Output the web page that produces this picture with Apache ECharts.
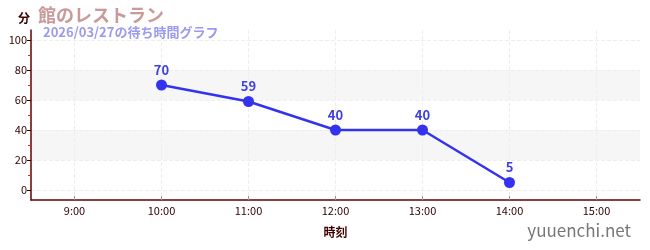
<!DOCTYPE html>
<html><head><meta charset="utf-8">
<script src="https://cdn.jsdelivr.net/npm/echarts@6/dist/echarts.min.js"></script>
<style>html,body{margin:0;padding:0;background:#fff}#c{width:650px;height:250px}</style>
</head><body><div id="c"></div>
<script>
const categories = ['9:00','10:00','11:00','12:00','13:00','14:00','15:00'];
const waitValues = [null, 70, 59, 40, 40, 5, null];
const yMajorTicks = [0, 20, 40, 60, 80, 100];
const yMinorTicks = [10, 30, 50, 70, 90];
const titleText = '館のレストラン';
const subtitleText = '2026/03/27の待ち時間グラフ';
const yUnit = '分';
const xName = '時刻';
const watermark = 'yuuenchi.net';

const font = '"Noto Sans CJK JP", "Noto Sans", sans-serif';
const yMin = -6.67, yMax = 106.67;
const xIdx = categories.map((c, i) => i);
const seriesData = waitValues.map((v, i) => [i, v]);
const chart = echarts.init(document.getElementById('c'), null, {renderer: 'canvas'});
chart.setOption({
  animation: false,
  textStyle: {fontFamily: font},
  title: [
    {text: titleText, left: 33, top: 1, textStyle: {fontSize: 18, fontWeight: 'bold', color: '#c99a9a', fontFamily: font}},
    {text: subtitleText, left: 38, top: 21, textStyle: {fontSize: 13, fontWeight: 'bold', color: '#9a9af0', fontFamily: font}},
    {text: yUnit, left: 13, top: 7, textStyle: {fontSize: 12, fontWeight: 'bold', color: '#400000', fontFamily: font}},
    {text: watermark, right: 14, bottom: 6, textStyle: {fontSize: 17, fontWeight: 'normal', color: '#777777', fontFamily: font}}
  ],
  grid: {left: 31, right: 10, top: 30, bottom: 50, containLabel: false},
  xAxis: {
    type: 'value', min: -0.5, max: categories.length - 0.5,
    name: xName, nameLocation: 'middle', nameGap: 26,
    nameTextStyle: {fontSize: 12, fontWeight: 'bold', color: '#400000'},
    axisLine: {onZero: false, lineStyle: {color: '#600000', width: 1.5}},
    axisTick: {show: true, customValues: xIdx, length: 4, inside: true, lineStyle: {color: '#999'}},
    axisLabel: {customValues: xIdx, formatter: v => categories[Math.round(v)], fontSize: 11, color: '#300000', margin: 5},
    splitLine: {show: true, lineStyle: {type: 'dashed', color: '#eeeeee'}}
  },
  yAxis: [
    {
      type: 'value', min: yMin, max: yMax,
      axisLine: {show: true, onZero: false, lineStyle: {color: '#600000', width: 1.5}},
      axisTick: {show: true, customValues: yMajorTicks, length: 4, lineStyle: {color: '#300000'}},
      axisLabel: {customValues: yMajorTicks, fontSize: 11, color: '#300000', margin: 4},
      splitLine: {show: true, lineStyle: {type: 'dashed', color: '#eeeeee'}},
      splitArea: {show: true, areaStyle: {color: ['rgba(0,0,0,0)','rgba(246,246,246,1)','rgba(0,0,0,0)','rgba(246,246,246,1)','rgba(0,0,0,0)','rgba(0,0,0,0)','rgba(0,0,0,0)']}}
    },
    {
      type: 'value', min: yMin, max: yMax, position: 'left',
      axisLine: {show: false, onZero: false},
      axisTick: {show: true, customValues: yMinorTicks, length: 3, lineStyle: {color: '#dd2222'}},
      axisLabel: {show: false},
      splitLine: {show: false}
    }
  ],
  series: [{
    type: 'line', data: seriesData, yAxisIndex: 0,
    symbol: 'circle', symbolSize: 11,
    lineStyle: {color: '#3333ee', width: 2.5},
    itemStyle: {color: '#3333ee'},
    label: {show: true, position: 'top', distance: 3, fontSize: 13, fontWeight: 'bold', color: '#3f3fdd'}
  }]
});
</script></body></html>
